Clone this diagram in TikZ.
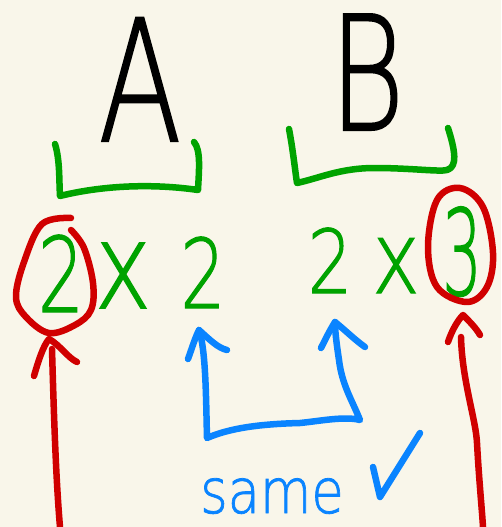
\documentclass[tikz,border=0pt]{standalone}
\usepackage{fontspec}
\newfontfamily\handfont{DejaVu Sans ExtraLight}[FakeBold=1.3]
\definecolor{bg}{HTML}{F9F6EA}
\definecolor{ink}{HTML}{000000}
\definecolor{grn}{HTML}{00A300}
\definecolor{rd}{HTML}{D00000}
\definecolor{bl}{HTML}{0A84FF}
\begin{document}
\begin{tikzpicture}[x=1pt,y=-1pt,
  pen/.style={line width=6.5pt,line cap=round,line join=round},
  glyph/.style={inner sep=0pt,outer sep=0pt,anchor=base,transform shape}]
\fill[bg] (0,0) rectangle (501,527);
\useasboundingbox (0,0) rectangle (501,527);

% letters
\node[glyph,text=ink,xscale=0.72,font=\handfont\fontsize{169}{169}\selectfont] (nA) at (140,141) {A};
\node[glyph,text=ink,xscale=0.72,font=\handfont\fontsize{159}{159}\selectfont] (nB) at (367,130) {B};

% products
\node[glyph,text=grn,xscale=0.7,font=\handfont\fontsize{104}{104}\selectfont] (l2a) at (61,312) {2};
\node[glyph,text=grn,xscale=0.8,font=\handfont\fontsize{119}{119}\selectfont] (lx) at (123,308) {x};
\node[glyph,text=grn,xscale=0.74,font=\handfont\fontsize{96}{96}\selectfont] (l2b) at (203,308) {2};
\node[glyph,text=grn,xscale=0.8,font=\handfont\fontsize{88}{88}\selectfont] (r2) at (330,293) {2};
\node[glyph,text=grn,xscale=0.8,font=\handfont\fontsize{100}{100}\selectfont] (rx) at (396,293) {x};
\node[glyph,text=grn,xscale=0.52,font=\handfont\fontsize{119}{119}\selectfont] (r3) at (462,295) {3};

% label
\node[glyph,text=bl,xscale=0.85,font=\handfont\fontsize{62}{62}\selectfont] (same) at (272,513) {same};

% green brackets
\draw[pen,grn] (55,144) .. controls (60,160) and (59,180) .. (60,196)
  .. controls (100,186) and (150,183) .. (198,190)
  .. controls (199,170) and (201,150) .. (194,142);
\draw[pen,grn] (289,129) .. controls (293,150) and (295,170) .. (297,183)
  .. controls (320,178) and (340,168) .. (375,168)
  .. controls (410,168) and (440,172) .. (447,170)
  .. controls (458,167) and (455,150) .. (448,128);

% red circles
\draw[pen,rd] plot[smooth,tension=0.6] coordinates {(71,218) (42,224) (24,262) (16,297) (26,317) (49,333) (75,325) (91,310) (93,283) (84,248) (71,230)};
\draw[pen,rd] plot[smooth cycle,tension=0.6] coordinates {(460,188) (437,200) (428,247) (437,287) (467,302) (487,287) (493,253) (483,207)};

% red arrows
\coordinate (la) at (49,339);
\coordinate (lb) at (60,527);
\draw[pen,rd] (52,349) .. controls (54,420) and (56,480) .. (lb);
\draw[pen,rd] (34,376) .. controls (38,362) and (43,346) .. (la) .. controls (60,345) and (68,358) .. (77,362);
\coordinate (ra) at (463,315);
\coordinate (rb) at (483,527);
\draw[pen,rd] (461,337) .. controls (462,380) and (476,420) .. (477,443) .. controls (479,480) and (482,510) .. (rb);
\draw[pen,rd] (448,342) .. controls (452,330) and (458,320) .. (ra) .. controls (470,322) and (476,328) .. (480,335);
\draw[rd,line width=4pt,line cap=round] (449,340) -- (457,322);

% blue arrows
\coordinate (ba) at (199,330);
\coordinate (bb) at (335,322);
\draw[pen,bl] (ba) .. controls (206,350) and (206,400) .. (207,438)
  .. controls (230,428) and (260,424) .. (300,423)
  .. controls (320,421) and (345,416) .. (360,420)
  .. controls (352,400) and (342,385) .. (339,360)
  .. controls (336,340) and (335,330) .. (bb);
\draw[pen,bl] (188,359) .. controls (192,348) and (195,338) .. (ba) .. controls (210,340) and (218,348) .. (227,350);
\draw[pen,bl] (321,348) .. controls (326,338) and (330,330) .. (bb) .. controls (345,330) and (355,340) .. (365,347);

% check mark
\draw[pen,bl] (373,467) -- (380,497) -- (420,433);
\end{tikzpicture}
\end{document}
